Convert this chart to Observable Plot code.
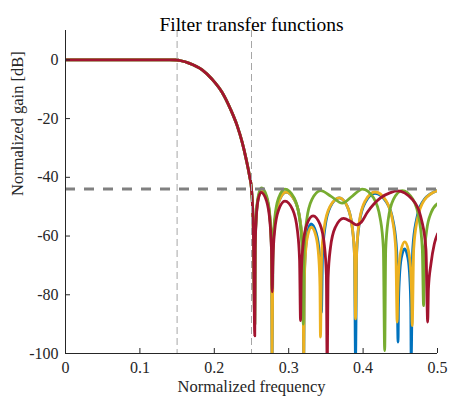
<!DOCTYPE html>
<html><head><meta charset="utf-8">
<script src="https://cdn.jsdelivr.net/npm/d3@7"></script>
<script src="https://cdn.jsdelivr.net/npm/@observablehq/plot@0.6"></script>
<style>
html,body{margin:0;padding:0;background:#fff;}
#chart svg{display:block;}
#chart svg text{font-family:'Liberation Serif','Times New Roman',serif;}
</style>
</head><body><div id="chart"></div>
<script>
const title = "Filter transfer functions";
const xLabel = "Normalized frequency";
const yLabel = "Normalized gain [dB]";
const xTicks = [0, 0.1, 0.2, 0.3, 0.4, 0.5];
const yTicks = [-100, -80, -60, -40, -20, 0];
const bandEdges = [0.15, 0.25];
const attenuation = [-44];
const seriesNames = ["Filter 1", "Filter 2", "Filter 3", "Filter 4"];
const seriesColors = ["#0072BD", "#EDB120", "#77AC30", "#A2142F"];

// [normalized frequency, gain dB] — shared passband / transition
const passband = [[0,0],[0.05,0],[0.1,0],[0.14,0],[0.15,-0.05],[0.155,-0.3],[0.1658,-1.1],[0.1837,-3.4],[0.1971,-6.6],[0.2106,-11.1],[0.2218,-16.8],[0.2307,-22.4],[0.2375,-28.1],[0.2428,-33.8],[0.2473,-39.5],[0.25,-44],[0.2525,-58]];

const blueStop = [[0.2544,-90],[0.2549,-64.3],[0.2562,-54.3],[0.2589,-47.3],[0.2634,-44.3],[0.2706,-47.3],[0.2749,-54.3],[0.2768,-64.3],[0.2777,-102],
[0.2788,-65],[0.2815,-55],[0.2871,-48],[0.2965,-45],[0.3084,-48],[0.3155,-55],[0.3189,-65],[0.3203,-102],
[0.3209,-76],[0.3223,-66],[0.3253,-59],[0.3300,-55.9],[0.3370,-59],[0.3412,-66],[0.3432,-76],[0.3440,-86],
[0.3454,-67],[0.3488,-57],[0.3560,-50],[0.368,-47],[0.3789,-50],[0.3854,-57],[0.3885,-67],[0.3898,-102],
[0.3914,-65.5],[0.3950,-55.5],[0.4029,-48.5],[0.416,-45.5],[0.4315,-48.5],[0.4408,-55.5],[0.4452,-65.5],[0.4470,-96.1],
[0.4475,-84.4],[0.4488,-74.4],[0.4514,-67.4],[0.4558,-64.4],[0.4602,-67.4],[0.4628,-74.4],[0.4641,-84.4],[0.4646,-102],
[0.4667,-64.5],[0.4717,-54.5],[0.4823,-47.5],[0.5,-44.5]];

const orangeStop = [[0.2544,-90],[0.2549,-64.3],[0.2562,-54.3],[0.2589,-47.3],[0.2634,-44.3],[0.2706,-47.3],[0.2749,-54.3],[0.2768,-64.3],[0.2777,-102],
[0.2788,-65],[0.2815,-55],[0.2871,-48],[0.2965,-45],[0.3084,-48],[0.3155,-55],[0.3189,-65],[0.3203,-102],
[0.3209,-77],[0.3223,-67],[0.3254,-60],[0.3305,-57],[0.3366,-60],[0.3403,-67],[0.3420,-77],[0.3427,-94.4],
[0.3442,-67],[0.3478,-57],[0.3554,-50],[0.368,-47],[0.3789,-50],[0.3854,-57],[0.3885,-67],[0.3898,-88.2],
[0.3914,-65],[0.3950,-55],[0.4029,-48],[0.416,-45],[0.4309,-48],[0.4398,-55],[0.4440,-65],[0.4458,-89.3],
[0.4464,-82],[0.4478,-72],[0.4509,-65],[0.456,-62],[0.461,-65],[0.464,-72],[0.4654,-82],[0.466,-90.5],
[0.468,-64.5],[0.4728,-54.5],[0.483,-47.5],[0.5,-44.5]];

const greenStop = [[0.2544,-90],[0.2549,-63.6],[0.2562,-53.6],[0.2589,-46.6],[0.2634,-43.6],[0.2706,-46.6],[0.2749,-53.6],[0.2769,-63.6],[0.2778,-78],
[0.2788,-64],[0.2812,-54],[0.2864,-47],[0.2950,-44],[0.3073,-47],[0.3146,-54],[0.3180,-64],[0.3195,-90],
[0.3209,-64.5],[0.3242,-54.5],[0.3313,-47.5],[0.343,-44.5],[0.357,-46.5],[0.372,-48.8],[0.386,-46.3],[0.399,-44],[0.414,-47],[0.423,-54],[0.4272,-64],[0.429,-99],
[0.4304,-64.5],[0.4337,-54.5],[0.4408,-47.5],[0.4525,-44.5],[0.4669,-47.5],[0.4755,-54.5],[0.4796,-64.5],[0.4813,-83.7],
[0.4825,-66],[0.4855,-58],[0.4915,-52],[0.5,-49]];

const redStop = [[0.2544,-94],[0.2549,-65.1],[0.2561,-55.3],[0.2586,-48.1],[0.2628,-45.1],[0.2703,-48.1],[0.2748,-55.3],[0.2769,-65.1],[0.2778,-79],
[0.2788,-68.1],[0.2812,-58.1],[0.2864,-51.1],[0.2950,-48.1],[0.3055,-51.1],[0.3117,-58.1],[0.3146,-68.1],[0.3159,-88.8],
[0.3169,-73.1],[0.3193,-63.1],[0.3243,-56.1],[0.3327,-53.1],[0.3422,-56.1],[0.3479,-63.1],[0.3506,-73.1],[0.3517,-105],
[0.3530,-74],[0.3561,-64],[0.3627,-57],[0.3737,-54],[0.3831,-55],[0.3911,-56.2],[0.3978,-55.2],[0.4055,-52],[0.4234,-47],[0.4368,-45.2],[0.4458,-44.6],[0.4664,-47.6],[0.4788,-54.8],[0.4845,-64.6],[0.4868,-89.3],
[0.4878,-78],[0.4912,-69.5],[0.4957,-62.7],[0.5,-59.3]];

const stops = [blueStop, orangeStop, greenStop, redStop];
const rows = [];
seriesNames.forEach((s, i) => {
  for (const [f, g] of passband.concat(stops[i])) rows.push({s, f, g});
});

const axisColor = "#262626";
const serif = "'Liberation Serif', 'Times New Roman', serif";
const chart = Plot.plot({
  width: 451, height: 403,
  marginLeft: 65, marginRight: 14, marginTop: 30, marginBottom: 50,
  style: {fontFamily: serif, fontSize: "16px", color: axisColor, background: "#fff"},
  x: {domain: [0, 0.5], label: null},
  y: {domain: [-100, 10], label: null},
  color: {domain: seriesNames, range: seriesColors},
  marks: [
    Plot.line(rows, {x: "f", y: "g", z: "s", stroke: "s", strokeWidth: 2.8, curve: "monotone-x", clip: true}),
    Plot.ruleX(bandEdges, {stroke: "#a6a6a6", strokeWidth: 1, strokeDasharray: "7,4"}),
    Plot.ruleY(attenuation, {stroke: "#808080", strokeWidth: 3, strokeDasharray: "10,9"}),
    Plot.axisX({ticks: xTicks, tickSize: 0, tickPadding: 8, tickFormat: d => String(d), label: null, fontSize: 16, fontFamily: serif}),
    Plot.axisY({ticks: yTicks, tickSize: 0, tickPadding: 7, tickFormat: d => String(d), label: null, fontSize: 16, fontFamily: serif}),
    Plot.tickX(xTicks, {x: d => d, insetTop: 318, stroke: axisColor}),
    Plot.tickY(yTicks, {y: d => d, insetRight: 367, stroke: axisColor}),
    Plot.ruleX([0], {stroke: axisColor, strokeWidth: 1}),
    Plot.ruleY([-100], {stroke: axisColor, strokeWidth: 1}),
    Plot.text([title], {frameAnchor: "top", dy: -13, fontSize: 19.5, fill: "#000", fontFamily: serif}),
    Plot.text([xLabel], {frameAnchor: "bottom", dy: 38, fontSize: 16.5, fill: axisColor, fontFamily: serif}),
    Plot.text([yLabel], {frameAnchor: "left", dx: -48, dy: 4, rotate: -90, fontSize: 16.5, fill: axisColor, fontFamily: serif})
  ]
});
document.getElementById("chart").appendChild(chart);
</script>
</body></html>
